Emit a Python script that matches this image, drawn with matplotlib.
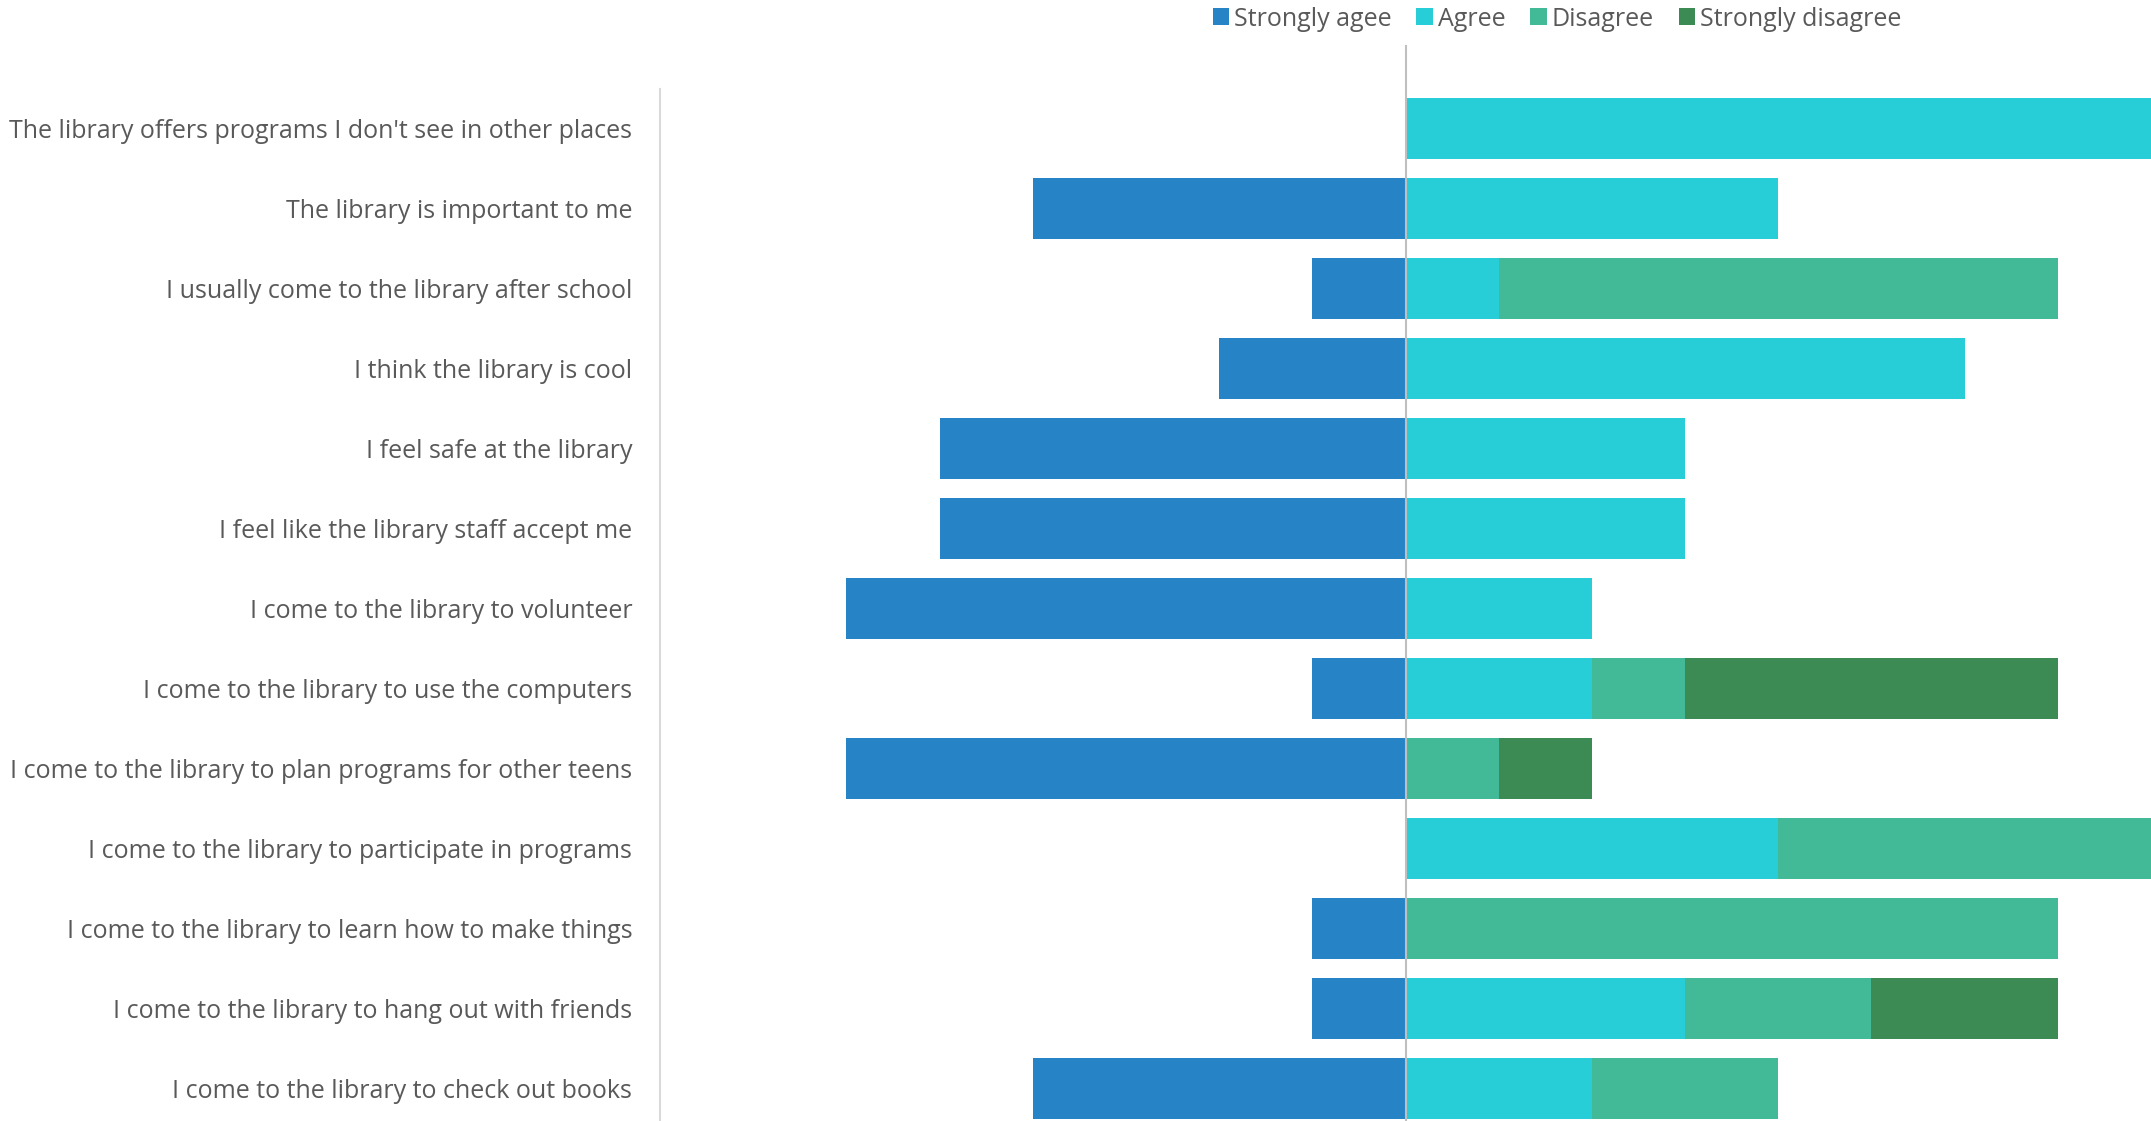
import matplotlib
matplotlib.use("Agg")
import matplotlib.pyplot as plt
import numpy as np

statements = [
    "The library offers programs I don't see in other places",
    "The library is important to me",
    "I usually come to the library after school",
    "I think the library is cool",
    "I feel safe at the library",
    "I feel like the library staff accept me",
    "I come to the library to volunteer",
    "I come to the library to use the computers",
    "I come to the library to plan programs for other teens",
    "I come to the library to participate in programs",
    "I come to the library to learn how to make things",
    "I come to the library to hang out with friends",
    "I come to the library to check out books",
]
strongly_agree = [0, 4, 1, 2, 5, 5, 6, 1, 6, 0, 1, 1, 4]
agree = [8, 4, 1, 6, 3, 3, 2, 2, 0, 4, 0, 3, 2]
disagree = [0, 0, 6, 0, 0, 0, 0, 1, 1, 4, 7, 2, 2]
strongly_disagree = [0, 0, 0, 0, 0, 0, 0, 4, 1, 0, 0, 2, 0]

series_names = ["Strongly agee", "Agree", "Disagree", "Strongly disagree"]
colors = ["#2683C6", "#27CED7", "#42BA97", "#3C8A54"]
text_color = "#595959"

plt.rcParams["font.family"] = ["Open Sans", "DejaVu Sans"]

W, H = 2151, 1121
fig = plt.figure(figsize=(W / 100, H / 100), dpi=100)
ax = fig.add_axes([660 / W, (H - 1128.5) / H, (W - 660) / W, 1040 / H])

y = np.arange(len(statements))
sa = np.array(strongly_agree)
a = np.array(agree)
d = np.array(disagree)
sd = np.array(strongly_disagree)
h = 0.76

handles = []
handles.append(ax.barh(y, -sa, height=h, color=colors[0], label=series_names[0]))
handles.append(ax.barh(y, a, height=h, color=colors[1], label=series_names[1]))
handles.append(ax.barh(y, d, left=a, height=h, color=colors[2], label=series_names[2]))
handles.append(ax.barh(y, sd, left=a + d, height=h, color=colors[3], label=series_names[3]))

ax.set_xlim(-8, 8)
ax.set_ylim(len(statements) - 0.5, -0.5)
ax.set_yticks(y)
ax.set_yticklabels(statements, fontsize=18, color=text_color)
ax.tick_params(axis="y", length=0, pad=20)
ax.set_xticks([])
for side in ["top", "right", "bottom"]:
    ax.spines[side].set_visible(False)
ax.spines["left"].set_color("#D9D9D9")
ax.spines["left"].set_linewidth(1.5)

# zero line, reaches above the plot area like the category axis
ax.plot([0, 0], [len(statements) - 0.5, -1.03], color="#BFBFBF", lw=1.5,
        clip_on=False, zorder=3)

fig.legend(handles=handles, loc="center", bbox_to_anchor=(1557 / W, 1 - 19 / H),
           ncol=4, frameon=False, fontsize=18, labelcolor=text_color,
           handlelength=0.65, handleheight=0.65, handletextpad=0.2, columnspacing=1.0,
           borderaxespad=0)

fig.savefig("out.png", dpi=100)
